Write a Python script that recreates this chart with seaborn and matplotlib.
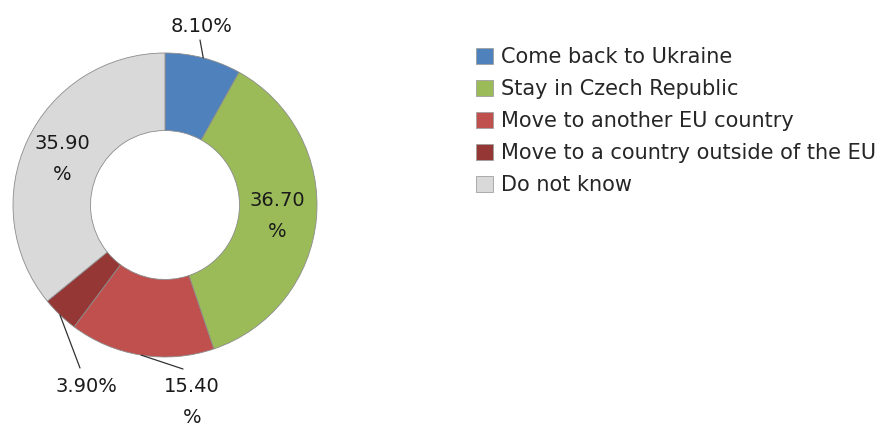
import numpy as np
import matplotlib
matplotlib.use("Agg")
import matplotlib.pyplot as plt
import seaborn as sns
from matplotlib.patches import Patch

sns.set_theme(style="white")
plt.rcParams["font.family"] = ["DejaVu Sans"]

categories = ["Come back to Ukraine", "Stay in Czech Republic", "Move to another EU country",
              "Move to a country outside of the EU", "Do not know"]
shares = [8.10, 36.70, 15.40, 3.90, 35.90]
labels = ["8.10%", "36.70\n%", "15.40\n%", "3.90%", "35.90\n%"]
colors = ["#4F81BD", "#9BBB59", "#C0504D", "#953735", "#D9D9D9"]

W, H = 886, 426
CX, CY, R = 165, 205, 152  # donut centre / radius in pixels

fig = plt.figure(figsize=(W / 100, H / 100), dpi=100)
half = 210
ax = fig.add_axes([(CX - half) / W, (H - CY - half) / H, 2 * half / W, 2 * half / H])

wedges, _ = ax.pie(shares, colors=colors, startangle=90, counterclock=False,
                   radius=1.0, wedgeprops=dict(width=0.51, edgecolor="#8c8c8c", linewidth=0.6))
lim = half / R
ax.set_xlim(-lim, lim)
ax.set_ylim(-lim, lim)
ax.set_aspect("equal")
ax.axis("off")


def px(x, y):
    return (x - CX) / R, (CY - y) / R


# label positions in pixels (text centre) and leader line ends (None = inside)
label_pos = [(202, 27), (277, 216), (192, 402), (86, 387), (62, 159)]
leader_end = [(200, 40), None, (183, 369), (80, 368), None]

for w, lab, pos, end in zip(wedges, labels, label_pos, leader_end):
    tx, ty = px(*pos)
    ax.text(tx, ty, lab, ha="center", va="center", fontsize=14, color="#1a1a1a",
            linespacing=1.85)
    if end is not None:
        mid = np.deg2rad((w.theta1 + w.theta2) / 2)
        ax.annotate("", xy=(np.cos(mid), np.sin(mid)), xytext=px(*end),
                    arrowprops=dict(arrowstyle="-", color="#333333", lw=0.9,
                                    shrinkA=0, shrinkB=0))

handles = [Patch(facecolor=c, edgecolor="#a0a0a0", linewidth=0.6) for c in colors]
fig.legend(handles, categories, loc="upper left", bbox_to_anchor=(476 / W, 1 - 47 / H),
           frameon=False, fontsize=15, handlelength=0.82, handleheight=0.82,
           handletextpad=0.38, labelspacing=0.58, borderpad=0, borderaxespad=0)

fig.savefig("out.png", dpi=100, facecolor="white")
